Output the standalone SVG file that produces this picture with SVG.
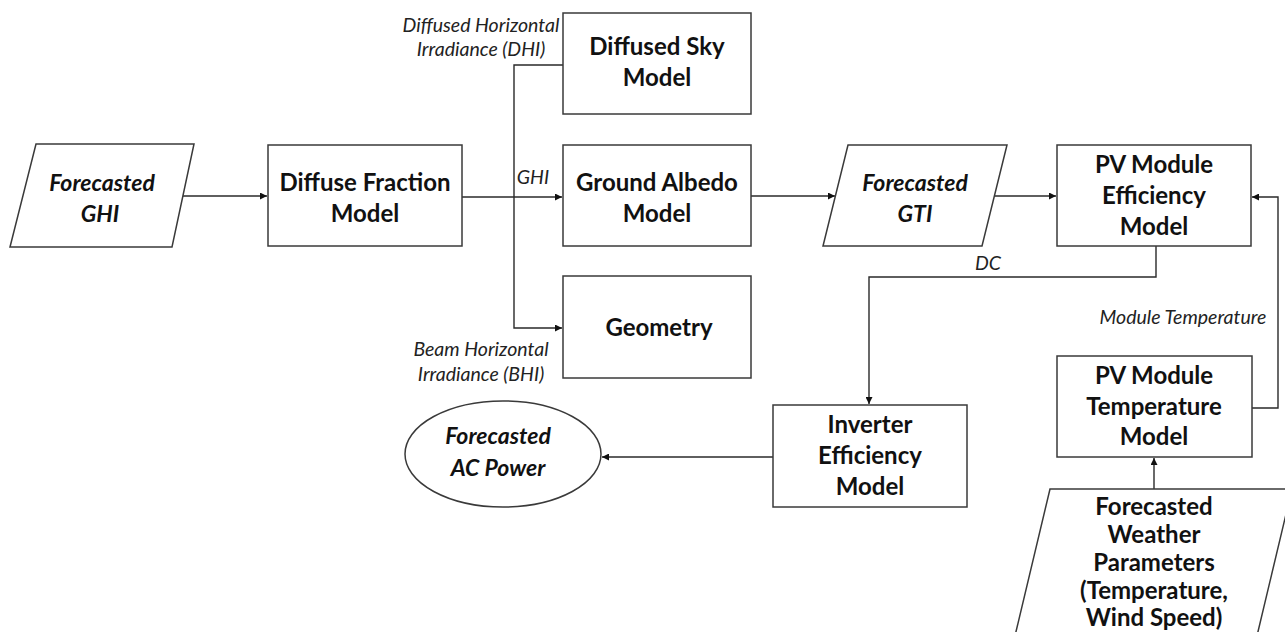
<svg xmlns="http://www.w3.org/2000/svg" width="1285" height="632" viewBox="0 0 1285 632">
  <style>
    .shape { fill: #ffffff; stroke: #3a3a3a; stroke-width: 1.5; }
    .wire { fill: none; stroke: #2a2a2a; stroke-width: 1.4; }
    .title { font-family: Lato, "Open Sans", sans-serif; font-weight: bold; font-size: 24px; fill: #111111; text-anchor: middle; }
    .title-i { font-family: Lato, "Open Sans", sans-serif; font-weight: bold; font-style: italic; font-size: 23px; fill: #111111; text-anchor: middle; }
    .note { font-family: Lato, "Open Sans", sans-serif; font-style: italic; font-size: 19.5px; fill: #222222; text-anchor: middle; }
  </style>
  <defs>
    <marker id="arrow" viewBox="0 0 10 10" refX="10" refY="5" markerWidth="7" markerHeight="7" markerUnits="userSpaceOnUse" orient="auto">
      <path d="M0,0 L10,5 L0,10 z" fill="#111111"/>
    </marker>
  </defs>
  <rect width="1285" height="632" fill="#ffffff"/>

  <!-- connectors -->
  <g id="connectors">
    <path class="wire" d="M183,196 H267" marker-end="url(#arrow)"/>
    <path class="wire" d="M462,197 H562" marker-end="url(#arrow)"/>
    <path class="wire" d="M563,65 H514 V328 H562" marker-end="url(#arrow)"/>
    <path class="wire" d="M750,196 H835" marker-end="url(#arrow)"/>
    <path class="wire" d="M995,196 H1056" marker-end="url(#arrow)"/>
    <path class="wire" d="M1156,246 V277 H869 V404" marker-end="url(#arrow)"/>
    <path class="wire" d="M1252,408 H1278 V197 H1252" marker-end="url(#arrow)"/>
    <path class="wire" d="M1154,489 V458" marker-end="url(#arrow)"/>
    <path class="wire" d="M773,457 H602" marker-end="url(#arrow)"/>
  </g>

  <!-- connector labels -->
  <g id="labels">
    <text class="note" x="481" y="32">Diffused Horizontal</text>
    <text class="note" x="481" y="56">Irradiance (DHI)</text>
    <text class="note" x="533" y="184">GHI</text>
    <text class="note" x="481" y="356">Beam Horizontal</text>
    <text class="note" x="481" y="381">Irradiance (BHI)</text>
    <text class="note" x="988" y="270">DC</text>
    <text class="note" x="1183" y="324">Module Temperature</text>
  </g>

  <g id="forecasted-ghi">
    <polygon class="shape" points="36,144 194,144 172,247 10,247"/>
    <text class="title-i" x="102" y="191">Forecasted</text>
    <text class="title-i" x="100" y="222">GHI</text>
  </g>

  <g id="diffuse-fraction-model">
    <rect class="shape" x="268" y="145" width="194" height="101"/>
    <text class="title" x="365" y="191">Diffuse Fraction</text>
    <text class="title" x="365" y="222">Model</text>
  </g>

  <g id="diffused-sky-model">
    <rect class="shape" x="563" y="13" width="188" height="101"/>
    <text class="title" x="657" y="55">Diffused Sky</text>
    <text class="title" x="657" y="86">Model</text>
  </g>

  <g id="ground-albedo-model">
    <rect class="shape" x="563" y="145" width="188" height="101"/>
    <text class="title" x="657" y="191">Ground Albedo</text>
    <text class="title" x="657" y="222">Model</text>
  </g>

  <g id="geometry">
    <rect class="shape" x="563" y="276" width="188" height="102"/>
    <text class="title" x="659" y="336">Geometry</text>
  </g>

  <g id="forecasted-gti">
    <polygon class="shape" points="848,145 1007,145 982,246 823,246"/>
    <text class="title-i" x="915" y="191">Forecasted</text>
    <text class="title-i" x="915" y="222">GTI</text>
  </g>

  <g id="pv-module-efficiency-model">
    <rect class="shape" x="1057" y="145" width="194" height="101"/>
    <text class="title" x="1154" y="173">PV Module</text>
    <text class="title" x="1154" y="204">Efficiency</text>
    <text class="title" x="1154" y="235">Model</text>
  </g>

  <g id="pv-module-temperature-model">
    <rect class="shape" x="1057" y="356" width="195" height="101"/>
    <text class="title" x="1154" y="384">PV Module</text>
    <text class="title" x="1154" y="415">Temperature</text>
    <text class="title" x="1154" y="445">Model</text>
  </g>

  <g id="forecasted-weather-parameters">
    <polygon class="shape" points="1050,489 1292,489 1256,640 1014,640"/>
    <text class="title" x="1154" y="515">Forecasted</text>
    <text class="title" x="1154" y="543">Weather</text>
    <text class="title" x="1154" y="571">Parameters</text>
    <text class="title" x="1154" y="599">(Temperature,</text>
    <text class="title" x="1154" y="626">Wind Speed)</text>
  </g>

  <g id="inverter-efficiency-model">
    <rect class="shape" x="773" y="405" width="194" height="102"/>
    <text class="title" x="870" y="433">Inverter</text>
    <text class="title" x="870" y="464">Efficiency</text>
    <text class="title" x="870" y="495">Model</text>
  </g>

  <g id="forecasted-ac-power">
    <ellipse class="shape" cx="503" cy="454" rx="98" ry="53"/>
    <text class="title-i" x="498" y="444">Forecasted</text>
    <text class="title-i" x="498" y="476">AC Power</text>
  </g>
</svg>
